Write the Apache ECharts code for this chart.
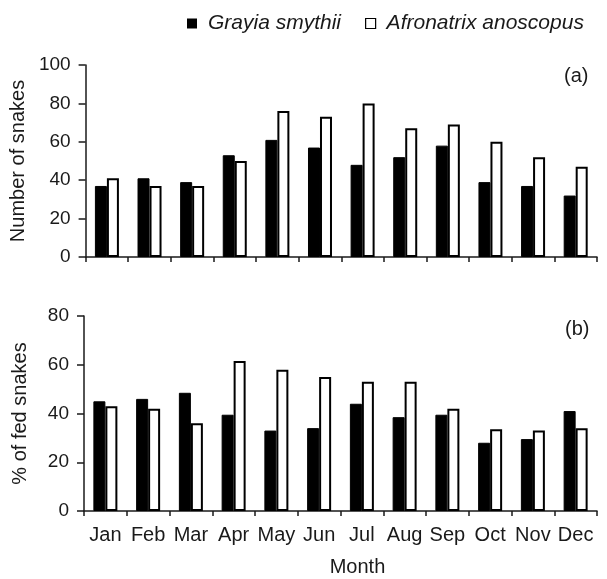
<!DOCTYPE html>
<html><head><meta charset="utf-8">
<script src="https://cdn.jsdelivr.net/npm/echarts@6/dist/echarts.min.js"></script>
<style>html,body{margin:0;padding:0;background:#fff}#c{width:607px;height:579px}</style>
</head><body><div id="c"></div>
<script>
const months = ['Jan','Feb','Mar','Apr','May','Jun','Jul','Aug','Sep','Oct','Nov','Dec'];
const grayiaCount = [37,41,39,53,61,57,48,52,58,39,37,32];
const afronatrixCount = [41,37,37,50,76,73,80,67,69,60,52,47];
const grayiaFed = [45,46,48.5,39.5,33,34,44,38.5,39.5,28,29.5,41];
const afronatrixFed = [43,42,36,61.5,58,55,53,53,42,33.5,33,34];
const countTicks = [0,20,40,60,80,100];
const fedTicks = [0,20,40,60,80];

const FONT = 'Liberation Sans, Arial, sans-serif';
const AX = '#1a1a1a';
const TXT = '#1a1a1a';
const chart = echarts.init(document.getElementById('c'), null, {renderer:'canvas'});
function yAxis(idx, ticks, name){
  return {type:'value', gridIndex:idx, min:ticks[0], max:ticks[ticks.length-1], interval:ticks[1]-ticks[0],
    name:name, nameLocation:'middle', nameGap:54, nameRotate:90,
    nameTextStyle:{fontFamily:FONT, fontSize:20, color:TXT},
    axisLine:{show:true, lineStyle:{color:AX, width:1.5}},
    axisTick:{show:true, length:7, lineStyle:{color:AX, width:1.5}},
    axisLabel:{fontFamily:FONT, fontSize:19, color:TXT, margin:15},
    splitLine:{show:false}};
}
function xAxis(idx, showLabel){
  return {type:'category', gridIndex:idx, data:months,
    name: showLabel ? 'Month' : '', nameLocation:'middle', nameGap:46,
    nameTextStyle:{fontFamily:FONT, fontSize:20, color:TXT, padding:[0,0,0,34]},
    axisLine:{show:true, lineStyle:{color:AX, width:1.5}},
    axisTick:{show:true, interval:0, length:5, lineStyle:{color:AX, width:1.5}},
    axisLabel:{show:showLabel, interval:0, fontFamily:FONT, fontSize:20, color:TXT, margin:14}};
}
const blackStyle = {color:'#000', borderColor:'#000', borderWidth:1};
const whiteStyle = {color:'#fff', borderColor:'#000', borderWidth:2};
chart.setOption({
  animation:false,
  backgroundColor:'#fff',
  legend:{top:8, left:182, itemWidth:10, itemHeight:10, itemGap:24,
    textStyle:{fontFamily:FONT, fontSize:21, fontStyle:'italic', color:TXT, padding:[0,0,0,6]},
    data:[{name:'Grayia smythii', icon:'rect', itemStyle:{borderWidth:0}},
          {name:'Afronatrix anoscopus', icon:'rect', itemStyle:{borderWidth:1.2}}]},
  grid:[{left:84, top:65, width:513, height:192},{left:84, top:316, width:513, height:195}],
  xAxis:[xAxis(0,false), xAxis(1,true)],
  yAxis:[yAxis(0,countTicks,'Number of snakes'), yAxis(1,fedTicks,'% of fed snakes')],
  graphic:[
    {type:'text', left:564, top:66, style:{text:'(a)', font:'20px '+FONT, fill:TXT}},
    {type:'text', left:565, top:319, style:{text:'(b)', font:'20px '+FONT, fill:TXT}}
  ],
  series:[
    {name:'Grayia smythii', type:'bar', xAxisIndex:0, yAxisIndex:0, data:grayiaCount, barWidth:12, barGap:'0%', itemStyle:blackStyle},
    {name:'Afronatrix anoscopus', type:'bar', xAxisIndex:0, yAxisIndex:0, data:afronatrixCount, barWidth:12, barGap:'0%', itemStyle:whiteStyle},
    {name:'Grayia smythii', type:'bar', xAxisIndex:1, yAxisIndex:1, data:grayiaFed, barWidth:12, barGap:'0%', itemStyle:blackStyle},
    {name:'Afronatrix anoscopus', type:'bar', xAxisIndex:1, yAxisIndex:1, data:afronatrixFed, barWidth:12, barGap:'0%', itemStyle:whiteStyle}
  ]
});
</script></body></html>
